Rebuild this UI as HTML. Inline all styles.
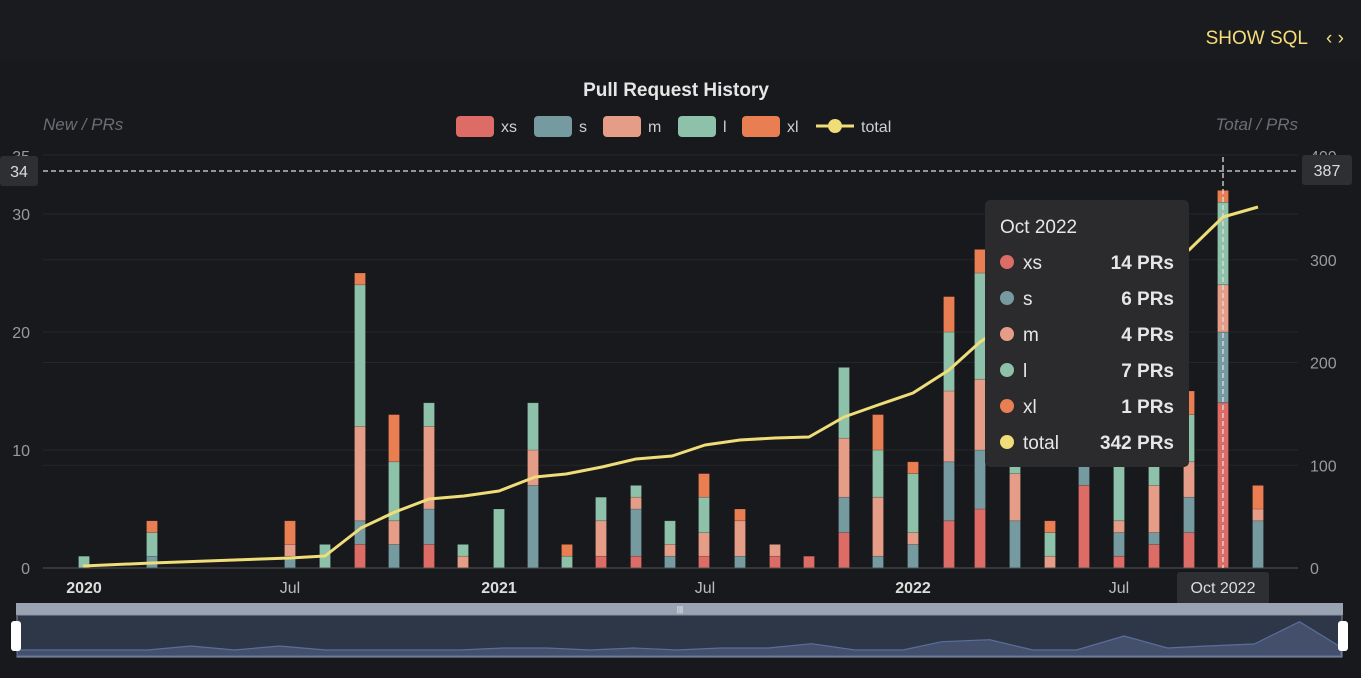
<!DOCTYPE html>
<html><head><meta charset="utf-8">
<style>
html,body{margin:0;padding:0;background:#18191c;width:1361px;height:678px;overflow:hidden;font-family:"Liberation Sans",sans-serif}
svg{position:absolute;left:0;top:0}
</style></head><body>
<svg id="c" width="1361" height="678" xmlns="http://www.w3.org/2000/svg">
<rect x="0" y="0" width="1361" height="60" fill="#1a1b1e"/>
<text x="1308" y="44" fill="#f5de7a" font-size="19" text-anchor="end" font-weight="500">SHOW SQL</text>
<text x="1335" y="44" fill="#f5de7a" font-size="19" text-anchor="middle">‹ ›</text>
<text x="676" y="96" fill="#e6e6e6" font-size="19" font-weight="bold" text-anchor="middle">Pull Request History</text>
<text x="43" y="130" fill="#6b6e74" font-size="17" font-style="italic">New / PRs</text>
<text x="1298" y="130" fill="#6b6e74" font-size="17" font-style="italic" text-anchor="end">Total / PRs</text>
<g font-size="16" fill="#d0d0d0">
<rect x="456" y="116" width="38" height="21" rx="4" fill="#dd6b66"/><text x="501" y="132">xs</text>
<rect x="534" y="116" width="38" height="21" rx="4" fill="#759aa0"/><text x="579" y="132">s</text>
<rect x="603" y="116" width="38" height="21" rx="4" fill="#e69d87"/><text x="648" y="132">m</text>
<rect x="678" y="116" width="38" height="21" rx="4" fill="#8dc1a9"/><text x="723" y="132">l</text>
<rect x="742" y="116" width="38" height="21" rx="4" fill="#ea7e53"/><text x="787" y="132">xl</text>
<line x1="816" y1="126" x2="854" y2="126" stroke="#eedd78" stroke-width="3"/><circle cx="835" cy="126" r="7" fill="#eedd78"/><text x="861" y="132">total</text>
</g>
<g id="grid" stroke="#25262a" stroke-width="1"></g>
<g id="axl" font-size="16" fill="#9a9a9a"></g>
<text x="30" y="162" font-size="16" fill="#9a9a9a" text-anchor="end">35</text>
<text x="1310" y="162" font-size="16" fill="#9a9a9a">400</text>
<g id="bars"></g>
<line x1="43" y1="568" x2="1298" y2="568" stroke="#555" stroke-width="1"/>
<polyline id="tot" fill="none" stroke="#eedd78" stroke-width="3" stroke-linejoin="round"/>
<line x1="43" y1="171" x2="1298" y2="171" stroke="#ddd" stroke-width="1.3" stroke-dasharray="5,3"/>
<line x1="1223" y1="157" x2="1223" y2="568" stroke="#ddd" stroke-width="1.3" stroke-dasharray="5,3"/>
<rect x="0" y="156" width="38" height="30" rx="3" fill="#2e2f33"/><text x="19" y="177" fill="#ddd" font-size="16" text-anchor="middle">34</text>
<rect x="1302" y="155" width="50" height="30" rx="3" fill="#2e2f33"/><text x="1327" y="176" fill="#ddd" font-size="16" text-anchor="middle">387</text>
<g font-size="16" fill="#bbb" text-anchor="middle">
<text x="84" y="593" font-weight="bold" fill="#ddd">2020</text>
<text x="290" y="593">Jul</text>
<text x="499" y="593" font-weight="bold" fill="#ddd">2021</text>
<text x="705" y="593">Jul</text>
<text x="913" y="593" font-weight="bold" fill="#ddd">2022</text>
<text x="1119" y="593">Jul</text>
</g>
<rect x="1177" y="572" width="92" height="33" rx="3" fill="#2e2f33"/><text x="1223" y="593" fill="#ddd" font-size="16" text-anchor="middle">Oct 2022</text>
<rect x="985" y="200" width="204" height="267" rx="5" fill="#2b2b2d"/>
<g font-size="19" fill="#e6e6e6">
<text x="1000" y="233">Oct 2022</text>
<circle cx="1007" cy="262" r="7" fill="#dd6b66"/><text x="1023" y="269">xs</text><text x="1174" y="269" text-anchor="end" font-weight="bold">14 PRs</text>
<circle cx="1007" cy="298" r="7" fill="#759aa0"/><text x="1023" y="305">s</text><text x="1174" y="305" text-anchor="end" font-weight="bold">6 PRs</text>
<circle cx="1007" cy="334" r="7" fill="#e69d87"/><text x="1023" y="341">m</text><text x="1174" y="341" text-anchor="end" font-weight="bold">4 PRs</text>
<circle cx="1007" cy="370" r="7" fill="#8dc1a9"/><text x="1023" y="377">l</text><text x="1174" y="377" text-anchor="end" font-weight="bold">7 PRs</text>
<circle cx="1007" cy="406" r="7" fill="#ea7e53"/><text x="1023" y="413">xl</text><text x="1174" y="413" text-anchor="end" font-weight="bold">1 PRs</text>
<circle cx="1007" cy="442" r="7" fill="#eedd78"/><text x="1023" y="449">total</text><text x="1174" y="449" text-anchor="end" font-weight="bold">342 PRs</text>
</g>
<rect x="16" y="603" width="1327" height="12" fill="#9aa3b2"/>
<text x="680" y="612" font-size="8" fill="#fff" text-anchor="middle">|||</text>
<rect x="17" y="615" width="1325" height="42" fill="#2e3748" stroke="#8a93a5" stroke-width="1"/>
<polygon id="spark" fill="#434f6b" stroke="#5a6e9c" stroke-width="1.2"/>
<rect x="11" y="621" width="10" height="30" rx="3" fill="#fff"/>
<rect x="1338" y="621" width="10" height="30" rx="3" fill="#fff"/>
</svg>
<script>
var NS="http://www.w3.org/2000/svg";
function el(p,t,a,txt){var e=document.createElementNS(NS,t);for(var k in a)e.setAttribute(k,a[k]);if(txt!=null)e.textContent=txt;document.getElementById(p).appendChild(e);return e;}
var y0=568,u=11.8;
[35,30,20,10].forEach(function(v){el('grid','line',{x1:43,x2:1298,y1:y0-v*u,y2:y0-v*u});});
[100,200,300].forEach(function(v){el('grid','line',{x1:43,x2:1298,y1:y0-v*1.0275,y2:y0-v*1.0275});});
[0,10,20,30].forEach(function(v){el('axl','text',{x:30,y:y0-v*u+6,'text-anchor':'end'},v);});
[0,100,200,300].forEach(function(v){el('axl','text',{x:1310,y:y0-v*1.0275+6},v);});
var C=["#dd6b66","#759aa0","#e69d87","#8dc1a9","#ea7e53"];
var D={0:[0,0,0,1,0],2:[0,1,0,2,1],6:[0,1,1,0,2],7:[0,0,0,2,0],8:[2,2,8,12,1],9:[0,2,2,5,4],10:[2,3,7,2,0],11:[0,0,1,1,0],
12:[0,0,0,5,0],13:[0,7,3,4,0],14:[0,0,0,1,1],15:[1,0,3,2,0],16:[1,4,1,1,0],17:[0,1,1,2,0],18:[1,0,2,3,2],19:[0,1,3,0,1],20:[1,0,1,0,0],21:[1,0,0,0,0],
22:[3,3,5,6,0],23:[0,1,5,4,3],24:[0,2,1,5,1],25:[4,5,6,5,3],26:[5,5,6,9,2],27:[0,4,4,4,0],28:[0,0,1,2,1],29:[7,2,0,2,0],30:[1,2,1,8,0],31:[2,1,4,3,0],32:[3,3,3,4,2],33:[14,6,4,7,1],34:[0,4,1,0,2]};
var X={0:84,2:152,6:290,7:325,8:360,9:394,10:429,11:463,12:499,13:533,14:567,15:601,16:636,17:670,18:704,19:740,20:775,21:809,22:844,23:878,24:913,25:949,26:980,27:1015,28:1050,29:1084,30:1119,31:1154,32:1189,33:1223,34:1258};
for(var i in D){var b=0;D[i].forEach(function(v,k){if(!v)return;var h=v*u;el('bars','rect',{x:X[i]-5.5,y:y0-(b+v)*u,width:11,height:h,fill:C[k],stroke:"rgba(0,0,0,0.25)","stroke-width":0.6});b+=v;});}
document.getElementById('tot').setAttribute('points',"83,566 152,563 290,558 325,556 361,528 395,512 429,499 464,496 499,491 535,477 566,474 602,467 636,459 672,456 705,445 740,440 775,438 809,437 844,417 878,405 913,393 949,370 980,342 1015,318 1050,302 1084,290 1119,276 1154,262 1189,250 1223,217 1258,207");
var sp=[[20,270],[170,270],[220,258],[270,270],[322,258],[375,270],[530,270],[580,264],[630,264],[680,270],[730,264],[780,270],[830,264],[885,264],[935,251],[985,270],[1040,270],[1085,245],[1140,239],[1190,270],[1240,270],[1295,228],[1345,264],[1390,258],[1445,252],[1497,185],[1545,262]];
var s=sp.map(function(p){return (p[0]/1.152).toFixed(1)+","+(p[1]/3+560).toFixed(1);});
s.push("1341,656","17,656");
document.getElementById('spark').setAttribute('points',s.join(" "));
</script>
</body></html>
